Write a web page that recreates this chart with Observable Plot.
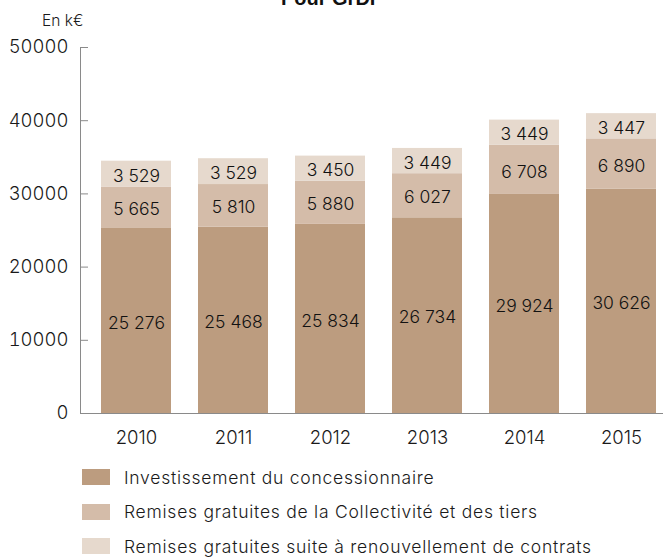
<!DOCTYPE html>
<html>
<head>
<meta charset="utf-8">
<script src="https://cdn.jsdelivr.net/npm/d3@7"></script>
<script src="https://cdn.jsdelivr.net/npm/@observablehq/plot@0.6"></script>
<style>
  body { margin: 0; background: #fff; font-family: Inter, "DejaVu Sans", sans-serif; font-weight: 300; color: #1a1a1a; }
  #wrap { position: relative; width: 663px; height: 558px; overflow: hidden; }
  #title { position: absolute; top: -12px; left: 0; width: 663px; text-align: center;
           font: bold 20px/20px "Liberation Sans", Arial, sans-serif; color: #111; }
  #unit { position: absolute; left: 42px; top: 11px; font-size: 15.5px; color: #1a1a1a; }
  #chart { position: absolute; left: 0; top: 0; }
  #legend { position: absolute; left: 82px; top: 460px; }
  .row { display: flex; align-items: center; height: 34.5px; font-size: 17.5px; letter-spacing: 0.75px; color: #1a1a1a; }
  .sw { width: 28px; height: 16px; margin-right: 14px; }
  svg text { font-weight: 300; }
</style>
</head>
<body>
<div id="wrap">
  <div id="chart"></div>
  <div id="title">Pour GrDF</div>
  <div id="unit">En k€</div>
  <div id="legend"></div>
</div>
<script>
// Années et montants (k€) par origine du financement
const years = ["2010", "2011", "2012", "2013", "2014", "2015"];
const concessionnaire = [25276, 25468, 25834, 26734, 29924, 30626];
const collectivite = [5665, 5810, 5880, 6027, 6708, 6890];
const renouvellement = [3529, 3529, 3450, 3449, 3449, 3447];
const series = [
  "Investissement du concessionnaire",
  "Remises gratuites de la Collectivité et des tiers",
  "Remises gratuites suite à renouvellement de contrats"
];
const colors = ["#bc9c7f", "#d4bca9", "#e6d9cd"];
const yTicks = [0, 10000, 20000, 30000, 40000, 50000];

// Table longue : une ligne par année et par série, empilées dans cet ordre
const columns = [concessionnaire, collectivite, renouvellement];
const rows = [];
years.forEach((year, i) => {
  series.forEach((serie, s) => rows.push({year, serie, value: columns[s][i]}));
});

const fr = d3.formatLocale({decimal: ",", thousands: " ", grouping: [3], currency: ["", " €"]});
const fmt = fr.format(",d");

const axisColor = "#8a8a8a";

const chart = Plot.plot({
  width: 663,
  height: 450,
  marginLeft: 80,
  marginRight: 0,
  marginTop: 47,
  marginBottom: 37,
  style: {fontFamily: "Inter, DejaVu Sans, sans-serif", color: "#1a1a1a", background: "transparent"},
  x: {domain: years, paddingInner: 0.28, paddingOuter: 0.144, align: 0.75, label: null},
  y: {domain: [0, 50000], label: null},
  color: {domain: series, range: colors},
  marks: [
    Plot.barY(rows, {x: "year", y: "value", fill: "serie"}),
    Plot.text(rows, Plot.stackY({
      x: "year", y: "value", z: "serie",
      text: d => fmt(d.value), fontSize: 17.5, fill: "#111", dy: 2
    })),
    Plot.frame({anchor: "left", stroke: axisColor}),
    Plot.ruleY([0], {stroke: axisColor}),
    Plot.axisY(yTicks, {tickSize: -8, tickFormat: () => "", stroke: axisColor}),
    Plot.axisY(yTicks, {tickSize: 0, tickPadding: 12, fontSize: 18.5, letterSpacing: 0.6, tickFormat: d => String(d)}),
    Plot.axisX({tickSize: 0, tickPadding: 17, fontSize: 18.5, letterSpacing: 1})
  ]
});
document.getElementById("chart").append(chart);

const legend = d3.select("#legend");
series.forEach((s, i) => {
  const row = legend.append("div").attr("class", "row");
  row.append("div").attr("class", "sw").style("background", colors[i]);
  row.append("span").text(s);
});
</script>
</body>
</html>
